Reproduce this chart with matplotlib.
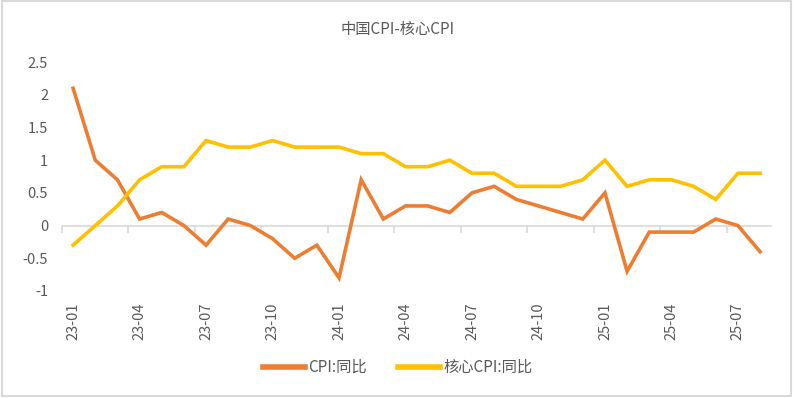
import matplotlib.pyplot as plt
from matplotlib.patches import Rectangle

plt.rcParams['font.family'] = ['Noto Sans CJK SC', 'DejaVu Sans']

# monthly data, 2023-01 .. 2025-08
months = []
for y in (23, 24, 25):
    for m in range(1, 13):
        months.append(f"{y}-{m:02d}")
months = months[:32]

cpi = [2.1, 1.0, 0.7, 0.1, 0.2, 0.0, -0.3, 0.1, 0.0, -0.2, -0.5, -0.3,
       -0.8, 0.7, 0.1, 0.3, 0.3, 0.2, 0.5, 0.6, 0.4, 0.3, 0.2, 0.1,
       0.5, -0.7, -0.1, -0.1, -0.1, 0.1, 0.0, -0.4]
core_cpi = [-0.3, 0.0, 0.3, 0.7, 0.9, 0.9, 1.3, 1.2, 1.2, 1.3, 1.2, 1.2,
            1.2, 1.1, 1.1, 0.9, 0.9, 1.0, 0.8, 0.8, 0.6, 0.6, 0.6, 0.7,
            1.0, 0.6, 0.7, 0.7, 0.6, 0.4, 0.8, 0.8]

grey = '#595959'
x = list(range(len(months)))

fig = plt.figure(figsize=(7.95, 3.98), dpi=100)
ax = fig.add_axes([0.078, 0.269, 0.892, 0.575])

ax.plot(x, cpi, color='#ED7D31', lw=2.6, label='CPI:同比', solid_joinstyle='miter')
ax.plot(x, core_cpi, color='#FFC000', lw=2.6, label='核心CPI:同比', solid_joinstyle='miter')

ax.set_xlim(-0.5, len(months) - 0.5)
ax.set_ylim(-1, 2.5)
ax.set_yticks([-1, -0.5, 0, 0.5, 1, 1.5, 2, 2.5])
ax.set_yticklabels(['-1', '-0.5', '0', '0.5', '1', '1.5', '2', '2.5'])
ax.set_xticks(x[::3])
ax.set_xticklabels(months[::3], rotation=90)
ax.tick_params(axis='both', length=0, colors=grey, labelsize=10.5)
ax.tick_params(axis='x', pad=8)
ax.tick_params(axis='y', pad=10)
for s in ax.spines.values():
    s.set_visible(False)

# category axis drawn at y = 0
zero_axis = ax.secondary_xaxis(1 / 3.5)
zero_axis.set_xticks([b - 0.5 for b in range(0, len(months) + 1, 3)])
zero_axis.tick_params(axis='x', direction='out', length=5, color='#D9D9D9',
                      width=1.2, labelbottom=False, labeltop=False)
zero_axis.spines['bottom'].set_color('#D9D9D9')
zero_axis.spines['bottom'].set_linewidth(1.2)

fig.text(0.5, 0.925, '中国CPI-核心CPI', ha='center', va='center', fontsize=11, color=grey)

leg = fig.legend(loc='center', bbox_to_anchor=(0.5, 0.077), ncol=2, frameon=False,
                 fontsize=11, handlelength=2.8, columnspacing=2.0, handletextpad=0.2)
for t in leg.get_texts():
    t.set_color(grey)
for h in leg.get_lines():
    h.set_linewidth(4)

fig.patches.append(Rectangle((0.002, 0.004), 0.993, 0.993, transform=fig.transFigure,
                             fill=False, edgecolor='#D9D9D9', lw=1.5))

fig.savefig('out.png', dpi=100)
